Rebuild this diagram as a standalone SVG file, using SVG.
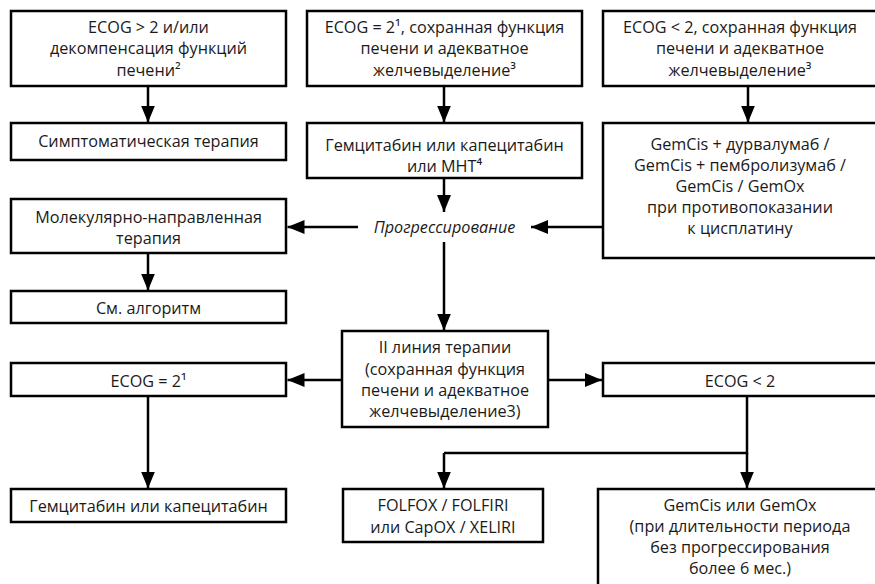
<svg xmlns="http://www.w3.org/2000/svg" width="875" height="584" viewBox="0 0 875 584">
  <style>
    .box { fill: #ffffff; stroke: #000000; stroke-width: 2.5; }
    .t { font-family: "Open Sans", "Noto Sans", "DejaVu Sans", sans-serif; font-size: 16.2px; fill: #1a1a1a; text-anchor: middle; }
    .it { font-style: italic; }
    .ln { fill: none; stroke: #000000; stroke-width: 2.5; }
  </style>
  <defs>
    <marker id="arrow" markerUnits="userSpaceOnUse" markerWidth="17" markerHeight="14" refX="17" refY="7" orient="auto">
      <path d="M0,0 L17,7 L0,14 z" fill="#000000"/>
    </marker>
  </defs>
  <rect width="875" height="584" fill="#ffffff"/>

  <g id="connectors">
    <line class="ln" x1="148" y1="86" x2="148" y2="122.5" marker-end="url(#arrow)"/>
    <line class="ln" x1="444" y1="86" x2="444" y2="122.5" marker-end="url(#arrow)"/>
    <line class="ln" x1="748" y1="86" x2="748" y2="122.5" marker-end="url(#arrow)"/>
    <line class="ln" x1="444" y1="178" x2="444" y2="212" marker-end="url(#arrow)"/>
    <line class="ln" x1="358" y1="227" x2="287.5" y2="227" marker-end="url(#arrow)"/>
    <line class="ln" x1="603" y1="227" x2="531" y2="227" marker-end="url(#arrow)"/>
    <line class="ln" x1="444" y1="242" x2="444" y2="330.5" marker-end="url(#arrow)"/>
    <line class="ln" x1="148" y1="253" x2="148" y2="290.5" marker-end="url(#arrow)"/>
    <line class="ln" x1="342" y1="380" x2="287.5" y2="380" marker-end="url(#arrow)"/>
    <line class="ln" x1="548" y1="380" x2="602" y2="380" marker-end="url(#arrow)"/>
    <line class="ln" x1="148" y1="396" x2="148" y2="488.5" marker-end="url(#arrow)"/>
    <polyline class="ln" points="747,396 747,453 444,453"/>
    <line class="ln" x1="444" y1="453" x2="444" y2="488.5" marker-end="url(#arrow)"/>
    <line class="ln" x1="747" y1="453" x2="747" y2="488.5" marker-end="url(#arrow)"/>
  </g>

  <g id="n-ecog-gt2">
    <rect class="box" x="11" y="11" width="275" height="75"/>
    <text class="t" x="148.5" y="32.5">ECOG &gt; 2 и/или</text>
    <text class="t" x="148.5" y="54">декомпенсация функций</text>
    <text class="t" x="148.5" y="75.5">печени²</text>
  </g>

  <g id="n-ecog-eq2">
    <rect class="box" x="307" y="11" width="275" height="75"/>
    <text class="t" x="444.5" y="32.5">ECOG = 2¹, сохранная функция</text>
    <text class="t" x="444.5" y="54">печени и адекватное</text>
    <text class="t" x="444.5" y="75.5">желчевыделение³</text>
  </g>

  <g id="n-ecog-lt2">
    <rect class="box" x="603" y="11" width="276" height="75"/>
    <text class="t" x="740" y="32.5">ECOG &lt; 2, сохранная функция</text>
    <text class="t" x="740" y="54">печени и адекватное</text>
    <text class="t" x="740" y="75.5">желчевыделение³</text>
  </g>

  <g id="n-symptomatic">
    <rect class="box" x="11" y="123" width="275" height="37"/>
    <text class="t" x="148.5" y="147">Симптоматическая терапия</text>
  </g>

  <g id="n-gem-cape-mnt">
    <rect class="box" x="307" y="123" width="275" height="55"/>
    <text class="t" x="444.5" y="150.5">Гемцитабин или капецитабин</text>
    <text class="t" x="444.5" y="172">или МНТ⁴</text>
  </g>

  <g id="n-gemcis">
    <rect class="box" x="603" y="123" width="276" height="135"/>
    <text class="t" x="740" y="150">GemCis + дурвалумаб /</text>
    <text class="t" x="740" y="171">GemCis + пембролизумаб /</text>
    <text class="t" x="740" y="192">GemCis / GemOx</text>
    <text class="t" x="740" y="213">при противопоказании</text>
    <text class="t" x="740" y="234">к цисплатину</text>
  </g>

  <g id="n-progression">
    <text class="t it" x="444.5" y="232.5">Прогрессирование</text>
  </g>

  <g id="n-targeted">
    <rect class="box" x="11" y="199" width="275" height="54"/>
    <text class="t" x="148.5" y="223">Молекулярно-направленная</text>
    <text class="t" x="148.5" y="244">терапия</text>
  </g>

  <g id="n-see-algorithm">
    <rect class="box" x="11" y="291" width="275" height="32"/>
    <text class="t" x="148.5" y="314">См. алгоритм</text>
  </g>

  <g id="n-second-line">
    <rect class="box" x="342" y="331" width="206" height="96"/>
    <text class="t" x="445" y="353">II линия терапии</text>
    <text class="t" x="445" y="374.5">(сохранная функция</text>
    <text class="t" x="445" y="396">печени и адекватное</text>
    <text class="t" x="445" y="417">желчевыделение3)</text>
  </g>

  <g id="n-ecog2-second">
    <rect class="box" x="11" y="363" width="275" height="33"/>
    <text class="t" x="148.5" y="387">ECOG = 2¹</text>
  </g>

  <g id="n-ecoglt2-second">
    <rect class="box" x="603" y="363" width="276" height="33"/>
    <text class="t" x="740" y="387">ECOG &lt; 2</text>
  </g>

  <g id="n-gem-cape">
    <rect class="box" x="11" y="489" width="275" height="33"/>
    <text class="t" x="148.5" y="511.5">Гемцитабин или капецитабин</text>
  </g>

  <g id="n-folfox">
    <rect class="box" x="343" y="489" width="200" height="53"/>
    <text class="t" x="443" y="510.5">FOLFOX / FOLFIRI</text>
    <text class="t" x="443" y="533">или CapOX / XELIRI</text>
  </g>

  <g id="n-gemcis-gemox">
    <rect class="box" x="598" y="489" width="281" height="100"/>
    <text class="t" x="740" y="510.5">GemCis или GemOx</text>
    <text class="t" x="740" y="531.5">(при длительности периода</text>
    <text class="t" x="740" y="553">без прогрессирования</text>
    <text class="t" x="740" y="574">более 6 мес.)</text>
  </g>
</svg>
